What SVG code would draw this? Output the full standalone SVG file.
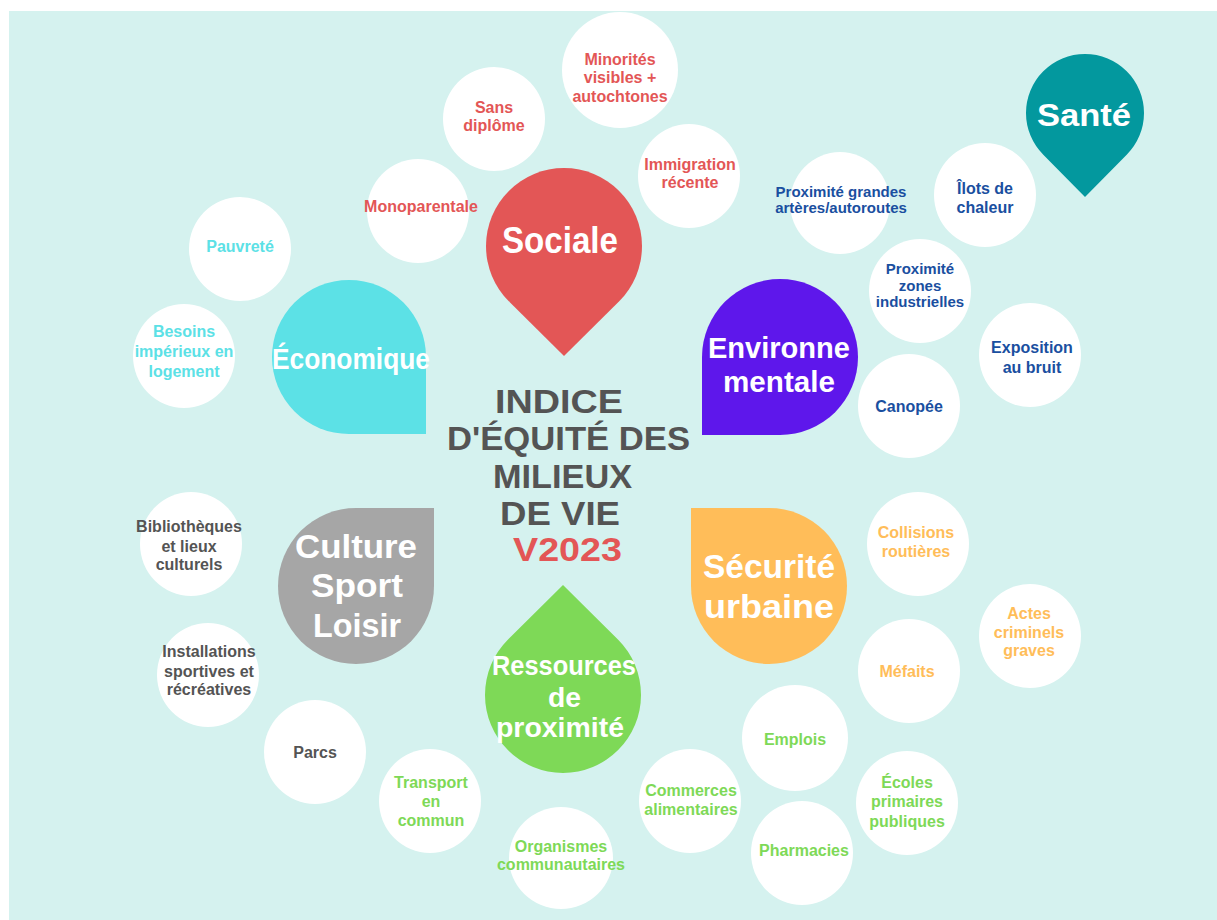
<svg xmlns="http://www.w3.org/2000/svg" width="1217" height="920" viewBox="0 0 1217 920">
<style>
.bub{fill:#ffffff}
.t{font-family:"Liberation Sans",Arial,sans-serif;font-weight:700;text-anchor:middle;font-size:16px}
.sm{font-size:15px}
.big{font-family:"Liberation Sans",Arial,sans-serif;font-weight:700;fill:#ffffff}
.ttl{font-family:"Liberation Sans",Arial,sans-serif;font-weight:700;font-size:33px;fill:#545454}
.red{fill:#e35656}.blue{fill:#1a4fa0}.cyan{fill:#5ce1e6}.grey{fill:#545454}.green{fill:#7ed957}.orange{fill:#ffbd59}
</style>
<rect x="0" y="0" width="1217" height="920" fill="#ffffff"/>
<rect x="9" y="11" width="1208" height="909" fill="#d5f2ef"/>
<g id="connectors"/>

<g id="minorites"><ellipse class="bub" cx="620" cy="70" rx="58" ry="58"/>
<text class="t red" x="620" y="65">Minorités</text><text class="t red" x="620" y="83">visibles +</text><text class="t red" x="620" y="102">autochtones</text></g>
<g id="sans-diplome"><ellipse class="bub" cx="494" cy="119" rx="51" ry="52"/>
<text class="t red" x="494" y="113">Sans</text><text class="t red" x="494" y="131">diplôme</text></g>
<g id="monoparentale"><ellipse class="bub" cx="418" cy="211" rx="51" ry="52"/>
<text class="t red" x="421" y="212">Monoparentale</text></g>
<g id="immigration"><ellipse class="bub" cx="689" cy="176" rx="51" ry="52"/>
<text class="t red" x="690" y="170">Immigration</text><text class="t red" x="690" y="188">récente</text></g>

<g id="arteres"><ellipse class="bub" cx="840" cy="203" rx="50" ry="51"/>
<text class="t sm blue" x="841" y="197">Proximité grandes</text><text class="t sm blue" x="841" y="213">artères/autoroutes</text></g>
<g id="ilots"><ellipse class="bub" cx="985" cy="195" rx="51" ry="52"/>
<text class="t blue" x="985" y="194">Îlots de</text><text class="t blue" x="985" y="213">chaleur</text></g>
<g id="zones"><ellipse class="bub" cx="920" cy="291" rx="51" ry="52"/>
<text class="t sm blue" x="920" y="274">Proximité</text><text class="t sm blue" x="920" y="291">zones</text><text class="t sm blue" x="920" y="307">industrielles</text></g>
<g id="bruit"><ellipse class="bub" cx="1030" cy="355" rx="51" ry="52"/>
<text class="t blue" x="1032" y="353">Exposition</text><text class="t blue" x="1032" y="373">au bruit</text></g>
<g id="canopee"><ellipse class="bub" cx="909" cy="406" rx="51" ry="52"/>
<text class="t blue" x="909" y="412">Canopée</text></g>

<g id="pauvrete"><ellipse class="bub" cx="240" cy="249" rx="51" ry="52"/>
<text class="t cyan" x="240" y="252">Pauvreté</text></g>
<g id="besoins"><ellipse class="bub" cx="184" cy="356" rx="51" ry="52"/>
<text class="t cyan" x="184" y="337">Besoins</text><text class="t cyan" x="184" y="357">impérieux en</text><text class="t cyan" x="184" y="377">logement</text></g>

<g id="bibliotheques"><ellipse class="bub" cx="191" cy="544" rx="51" ry="52"/>
<text class="t grey" x="189" y="532">Bibliothèques</text><text class="t grey" x="189" y="552">et lieux</text><text class="t grey" x="189" y="570">culturels</text></g>
<g id="installations"><ellipse class="bub" cx="208" cy="675" rx="51" ry="52"/>
<text class="t grey" x="209" y="657">Installations</text><text class="t grey" x="209" y="677">sportives et</text><text class="t grey" x="209" y="695">récréatives</text></g>
<g id="parcs"><ellipse class="bub" cx="315" cy="752" rx="51" ry="52"/>
<text class="t grey" x="315" y="758">Parcs</text></g>

<g id="transport"><ellipse class="bub" cx="430" cy="801" rx="51" ry="52"/>
<text class="t green" x="431" y="788">Transport</text><text class="t green" x="431" y="807">en</text><text class="t green" x="431" y="826">commun</text></g>
<g id="organismes"><ellipse class="bub" cx="561" cy="858" rx="52" ry="51"/>
<text class="t green" x="561" y="852">Organismes</text><text class="t green" x="561" y="870">communautaires</text></g>
<g id="commerces"><ellipse class="bub" cx="690" cy="801" rx="51" ry="52"/>
<text class="t green" x="691" y="796">Commerces</text><text class="t green" x="691" y="815">alimentaires</text></g>
<g id="emplois"><ellipse class="bub" cx="795" cy="738" rx="53" ry="53"/>
<text class="t green" x="795" y="745">Emplois</text></g>
<g id="pharmacies"><ellipse class="bub" cx="802" cy="853" rx="51" ry="52"/>
<text class="t green" x="804" y="856">Pharmacies</text></g>
<g id="ecoles"><ellipse class="bub" cx="907" cy="803" rx="51" ry="52"/>
<text class="t green" x="907" y="788">Écoles</text><text class="t green" x="907" y="807">primaires</text><text class="t green" x="907" y="827">publiques</text></g>

<g id="collisions"><ellipse class="bub" cx="918" cy="544" rx="51" ry="52"/>
<text class="t orange" x="916" y="538">Collisions</text><text class="t orange" x="916" y="557">routières</text></g>
<g id="actes"><ellipse class="bub" cx="1030" cy="636" rx="51" ry="52"/>
<text class="t orange" x="1029" y="619">Actes</text><text class="t orange" x="1029" y="638">criminels</text><text class="t orange" x="1029" y="656">graves</text></g>
<g id="mefaits"><ellipse class="bub" cx="909" cy="671" rx="51" ry="52"/>
<text class="t orange" x="907" y="677">Méfaits</text></g>

<g id="sociale"><path d="M564,356 L508.8,301.2 A78,78 0 1 1 619.2,301.2 Z" fill="#e35656"/>
<text class="big" x="502" y="253" font-size="36" textLength="116" lengthAdjust="spacingAndGlyphs">Sociale</text></g>
<g id="economique"><path d="M426,357 L426,434 L349,434 A77,77 0 1 1 426,357 Z" fill="#5ce1e6"/>
<text class="big" x="272" y="369" font-size="29" textLength="158" lengthAdjust="spacingAndGlyphs">Économique</text></g>
<g id="environnementale"><path d="M702,357 A78,78 0 1 1 780,435 L702,435 Z" fill="#5e17eb"/>
<text class="big" x="708" y="358" font-size="30" textLength="142" lengthAdjust="spacingAndGlyphs">Environne</text>
<text class="big" x="723" y="392" font-size="30" textLength="112" lengthAdjust="spacingAndGlyphs">mentale</text></g>
<g id="sante"><path d="M1085,197 L1043.3,154.7 A59,59 0 1 1 1126.7,154.7 Z" fill="#03989e"/>
<text class="big" x="1037" y="126" font-size="32" textLength="94" lengthAdjust="spacingAndGlyphs">Santé</text></g>
<g id="securite"><path d="M769,508 A78,78 0 1 1 691,586 L691,508 Z" fill="#ffbd59"/>
<text class="big" x="703" y="578" font-size="33" textLength="132" lengthAdjust="spacingAndGlyphs">Sécurité</text>
<text class="big" x="704" y="618" font-size="33" textLength="130" lengthAdjust="spacingAndGlyphs">urbaine</text></g>
<g id="culture"><path d="M434,586 A78,78 0 1 1 356,508 L434,508 Z" fill="#a6a6a6"/>
<text class="big" x="295" y="558" font-size="34" textLength="122" lengthAdjust="spacingAndGlyphs">Culture</text>
<text class="big" x="311" y="597" font-size="34" textLength="92" lengthAdjust="spacingAndGlyphs">Sport</text>
<text class="big" x="313" y="637" font-size="34" textLength="88" lengthAdjust="spacingAndGlyphs">Loisir</text></g>
<g id="ressources"><path d="M563,585 L618.2,639.8 A78,78 0 1 1 507.8,639.8 Z" fill="#7ed957"/>
<text class="big" x="492" y="675" font-size="28" textLength="144" lengthAdjust="spacingAndGlyphs">Ressources</text>
<text class="big" x="548" y="707" font-size="28" textLength="33" lengthAdjust="spacingAndGlyphs">de</text>
<text class="big" x="496" y="737" font-size="28" textLength="128" lengthAdjust="spacingAndGlyphs">proximité</text></g>

<g id="titre">
<text class="ttl" x="495" y="413" textLength="128" lengthAdjust="spacingAndGlyphs">INDICE</text>
<text class="ttl" x="447" y="450" textLength="243" lengthAdjust="spacingAndGlyphs">D'ÉQUITÉ DES</text>
<text class="ttl" x="493" y="488" textLength="139" lengthAdjust="spacingAndGlyphs">MILIEUX</text>
<text class="ttl" x="500" y="525" textLength="120" lengthAdjust="spacingAndGlyphs">DE VIE</text>
<text class="ttl" x="513" y="561" textLength="109" lengthAdjust="spacingAndGlyphs" style="fill:#e35656">V2023</text>
</g>
</svg>
